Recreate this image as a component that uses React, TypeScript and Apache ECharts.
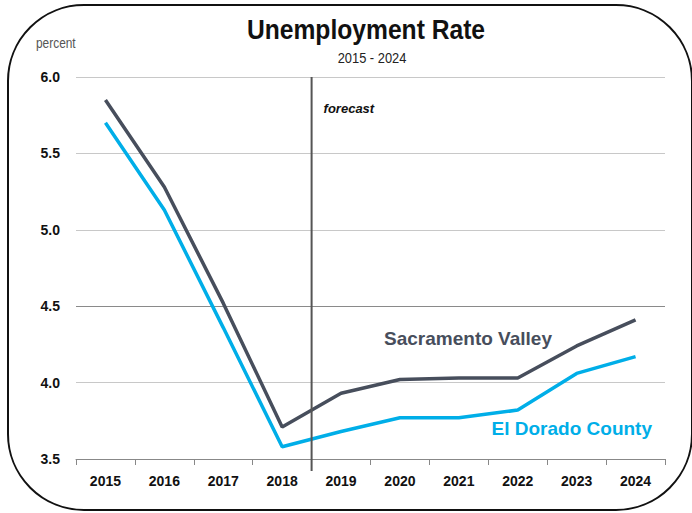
import React, { useEffect, useRef } from "react";
import * as echarts from "echarts";

const years = ["2015", "2016", "2017", "2018", "2019", "2020", "2021", "2022", "2023", "2024"];
const sacramentoValley = [5.85, 5.28, 4.52, 3.71, 3.93, 4.02, 4.03, 4.03, 4.24, 4.41];
const elDoradoCounty = [5.7, 5.13, 4.36, 3.58, 3.68, 3.77, 3.77, 3.82, 4.06, 4.17];
const yTicks = [3.5, 4.0, 4.5, 5.0, 5.5, 6.0];

const FONT = "'Liberation Sans', Arial, sans-serif";
const DARK = "#474e5c";
const CYAN = "#00aee8";

export default function App() {
  const ref = useRef<HTMLDivElement>(null);
  useEffect(() => {
    document.body.style.margin = "0";
    const chart = echarts.init(ref.current!, null, { renderer: "svg" });
    const option: any = {
      animation: false,
      backgroundColor: "#fff",
      grid: { left: 76, right: 27, top: 77, bottom: 54, containLabel: false },
      xAxis: {
        type: "category",
        data: years,
        boundaryGap: true,
        axisLine: { lineStyle: { color: "#888", width: 1 } },
        axisTick: { show: true, alignWithLabel: false, length: 6, lineStyle: { color: "#888" } },
        axisLabel: { color: "#111", fontFamily: FONT, fontWeight: "bold", fontSize: 14, margin: 15 },
      },
      yAxis: {
        type: "value",
        min: 3.5,
        max: 6.0,
        interval: 0.5,
        axisLine: { show: false },
        axisTick: { show: false },
        axisLabel: {
          color: "#111",
          fontFamily: FONT,
          fontWeight: "bold",
          fontSize: 14,
          margin: 16,
          formatter: (v: number) => v.toFixed(1),
        },
        splitLine: { lineStyle: { color: ["#c8c8c8", "#c8c8c8", "#8a8a8a", "#c8c8c8", "#c8c8c8", "#c8c8c8"], width: 1 } },
      },
      series: [
        {
          name: "Sacramento Valley",
          type: "line",
          data: sacramentoValley,
          symbol: "none",
          lineStyle: { color: DARK, width: 3.5 },
          z: 3,
        },
        {
          name: "El Dorado County",
          type: "line",
          data: elDoradoCounty,
          symbol: "none",
          lineStyle: { color: CYAN, width: 3.5 },
          z: 3,
        },
      ],
      graphic: [],
    };
    chart.setOption(option);

    const x18 = chart.convertToPixel({ xAxisIndex: 0 }, "2018") as number;
    const x19 = chart.convertToPixel({ xAxisIndex: 0 }, "2019") as number;
    const yTop = chart.convertToPixel({ yAxisIndex: 0 }, yTicks[yTicks.length - 1]) as number;
    const yBot = chart.convertToPixel({ yAxisIndex: 0 }, yTicks[0]) as number;
    const xf = (x18 + x19) / 2;

    chart.setOption({
      graphic: [
        {
          type: "rect",
          shape: { x: 8, y: 5, width: 684, height: 505, r: 76 },
          style: { fill: "none", stroke: "#111", lineWidth: 2 },
          z: 10,
        },
        {
          type: "line",
          shape: { x1: xf, y1: yTop, x2: xf, y2: yBot + 12 },
          style: { stroke: "#555", lineWidth: 2 },
          z: 5,
        },
        {
          type: "text",
          x: 366,
          y: 29,
          scaleX: 0.88,
          style: {
            text: "Unemployment Rate",
            fontFamily: FONT,
            fontWeight: "bold",
            fontSize: 28,
            fill: "#111",
            align: "center",
            verticalAlign: "middle",
          },
        },
        {
          type: "text",
          x: 372,
          y: 58,
          scaleX: 0.92,
          style: {
            text: "2015 - 2024",
            fontFamily: FONT,
            fontSize: 14,
            fill: "#222",
            align: "center",
            verticalAlign: "middle",
          },
        },
        {
          type: "text",
          x: 36,
          y: 43,
          scaleX: 0.85,
          style: {
            text: "percent",
            fontFamily: FONT,
            fontSize: 14,
            fill: "#555",
            align: "left",
            verticalAlign: "middle",
          },
        },
        {
          type: "text",
          x: xf + 12,
          y: 108,
          style: {
            text: "forecast",
            fontFamily: FONT,
            fontStyle: "italic",
            fontWeight: "bold",
            fontSize: 13,
            fill: "#111",
            align: "left",
            verticalAlign: "middle",
          },
        },
        {
          type: "text",
          x: 552,
          y: 338,
          style: {
            text: "Sacramento Valley",
            fontFamily: FONT,
            fontWeight: "bold",
            fontSize: 19,
            fill: DARK,
            align: "right",
            verticalAlign: "middle",
          },
        },
        {
          type: "text",
          x: 652,
          y: 428,
          style: {
            text: "El Dorado County",
            fontFamily: FONT,
            fontWeight: "bold",
            fontSize: 19,
            fill: CYAN,
            align: "right",
            verticalAlign: "middle",
          },
        },
      ],
    });

    return () => chart.dispose();
  }, []);
  return <div ref={ref} style={{ width: 692, height: 513 }} />;
}
